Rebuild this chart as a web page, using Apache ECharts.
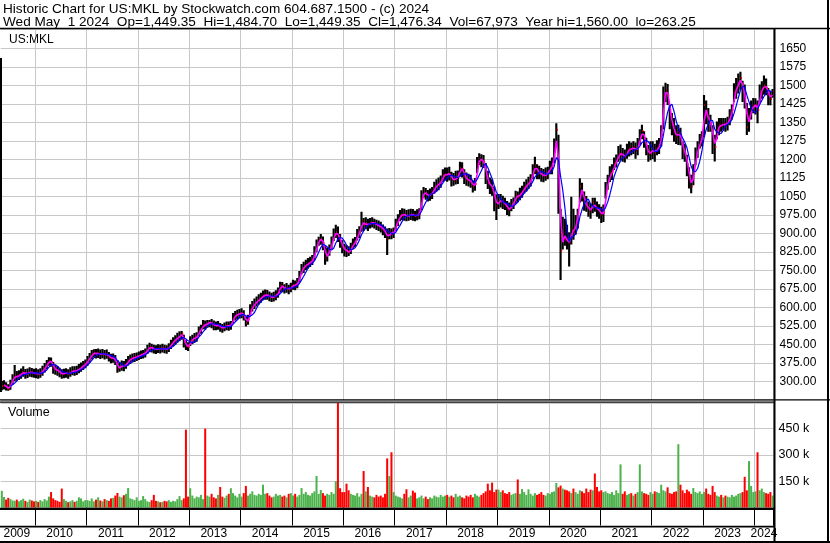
<!DOCTYPE html>
<html><head><meta charset="utf-8">
<script src="https://cdn.jsdelivr.net/npm/echarts@6/dist/echarts.min.js"></script>
<style>html,body{margin:0;padding:0;background:#fff}#c{width:830px;height:543px}</style>
</head><body><div id="c"></div>
<script>
// ---- semi-monthly periods (a = 1st half, b = 2nd half), May 2009 .. May 1 2024
const periods = [];
for (let y = 2009; y <= 2024; y++) for (let m = 1; m <= 12; m++) for (const h of ['a', 'b']) {
  const k = y * 100 + m;
  if (k < 200905 || k > 202405 || (k === 202405 && h === 'b')) continue;
  periods.push(y + '-' + String(m).padStart(2, '0') + h);
}

// ---- closes / highs / lows per half month
const c2009 = [283,287,278,270,290,312,322,320,326,332,340,330,334,340,336,333];
const h2009 = [303,306,298,290,308,330,368,343,346,353,362,351,353,358,355,352];
const l2009 = [265,268,264,263,267,288,302,304,307,312,320,312,315,320,318,316];
const c2010 = [334,330,335,345,358,370,385,380,355,348,345,336,330,334,336,330,338,344,342,346,352,358,366,372];
const h2010 = [354,350,354,364,376,388,399,398,380,370,363,356,350,352,354,350,358,362,362,364,372,378,384,390];
const l2010 = [314,312,316,324,337,350,364,360,332,328,324,318,312,314,316,312,320,326,324,327,334,340,347,354];
const c2011 = [385,398,410,418,412,415,410,414,408,412,400,394,396,386,352,358,366,362,372,385,392,396,398,402];
const h2011 = [404,416,428,431,432,434,430,432,428,430,420,413,414,408,388,378,386,384,392,404,410,414,416,418];
const l2011 = [364,377,390,398,394,396,392,395,390,393,382,375,377,368,336,340,344,342,352,366,372,378,380,384];
const c2012 = [405,410,412,418,432,440,436,432,430,434,432,436,433,430,438,452,462,470,478,486,494,462,445,440];
const h2012 = [422,426,428,434,450,458,454,450,448,452,450,454,450,448,456,470,480,488,498,504,505,490,468,460];
const l2012 = [388,392,394,398,412,420,418,414,412,416,414,418,415,413,420,432,442,450,458,464,470,438,428,424];
const c2013 = [465,472,478,482,505,512,532,528,538,540,535,528,526,530,520,516,522,528,525,530,558,568,572,576];
const h2013 = [484,490,497,500,523,531,550,548,550,550,554,548,544,546,538,534,540,544,544,546,578,586,591,594];
const l2013 = [444,452,458,462,484,494,512,510,518,520,516,508,508,510,502,498,504,508,506,510,537,548,552,556];
const c2014 = [578,568,538,552,590,605,615,625,632,640,648,652,650,645,640,645,650,660,690,685,675,680,672,682];
const h2014 = [597,589,564,571,613,627,637,645,654,660,669,673,671,665,660,664,670,681,705,704,694,700,692,701];
const l2014 = [557,548,523,530,570,584,594,604,612,620,630,632,632,626,623,625,630,640,662,662,657,660,654,662];
const c2015 = [692,690,700,725,755,765,772,778,785,792,820,850,875,878,860,800,815,832,860,895,905,890,870,845];
const h2015 = [713,710,720,748,776,786,794,801,806,813,848,876,887,898,888,848,843,855,888,920,935,928,898,873];
const l2015 = [672,670,678,702,734,740,752,758,764,772,792,824,850,854,832,773,787,810,837,870,882,866,842,820];
const c2016 = [835,828,822,840,858,865,895,905,950,935,940,935,942,945,940,935,930,925,915,905,880,905,898,905];
const h2016 = [858,853,848,863,880,886,918,929,988,963,966,960,963,966,960,956,953,948,936,928,920,922,920,924];
const l2016 = [807,805,809,817,837,844,872,882,907,910,917,910,920,924,920,914,910,904,893,882,813,877,877,882];
const c2017 = [935,955,972,978,975,970,972,978,975,970,976,980,1045,1070,1060,1052,1058,1065,1085,1095,1100,1110,1135,1140];
const h2017 = [960,978,995,1002,1000,995,998,1000,999,992,998,1002,1075,1088,1084,1076,1082,1088,1110,1120,1127,1135,1160,1167];
const l2017 = [910,930,950,955,952,950,952,955,952,950,954,958,995,1045,1037,1030,1033,1040,1062,1070,1075,1085,1110,1115];
const c2018 = [1138,1145,1120,1115,1125,1130,1165,1160,1130,1118,1115,1110,1090,1100,1180,1205,1195,1190,1140,1105,1095,1085,1045,1010];
const h2018 = [1167,1170,1150,1145,1154,1155,1190,1188,1160,1147,1142,1138,1115,1125,1210,1225,1221,1218,1185,1154,1127,1120,1090,1059];
const l2018 = [1110,1115,1090,1093,1098,1100,1132,1127,1100,1093,1090,1085,1066,1073,1145,1177,1168,1165,1100,1080,1060,1053,990,955];
const c2019 = [1030,1036,1025,1018,1002,995,1015,1025,1055,1048,1060,1070,1085,1095,1105,1115,1150,1175,1150,1145,1140,1130,1140,1148];
const h2019 = [1060,1060,1053,1045,1032,1025,1040,1046,1073,1070,1085,1093,1110,1120,1130,1140,1180,1211,1180,1174,1165,1161,1167,1170];
const l2019 = [999,1005,999,995,975,970,990,999,1020,1026,1035,1045,1062,1070,1080,1090,1120,1140,1120,1120,1110,1107,1114,1120];
const c2020 = [1165,1175,1230,1320,1100,830,900,880,870,860,920,905,940,980,1090,1065,1030,1010,1000,990,1025,1005,1000,990];
const h2020 = [1195,1208,1285,1346,1300,1000,968,960,935,905,1049,1000,975,1000,1124,1105,1070,1052,1030,1022,1045,1045,1030,1018];
const l2020 = [1140,1140,1185,1255,980,712,835,850,835,766,855,875,895,920,1025,1030,992,988,968,960,982,988,968,960];
const c2021 = [975,985,1075,1110,1140,1150,1180,1195,1220,1225,1215,1210,1230,1245,1240,1250,1235,1250,1290,1315,1285,1245,1220,1230];
const h2021 = [1008,1017,1108,1138,1172,1180,1208,1220,1254,1260,1246,1240,1263,1273,1268,1273,1268,1287,1322,1340,1314,1288,1258,1273];
const l2021 = [942,947,1042,1077,1109,1117,1157,1167,1190,1197,1190,1187,1203,1212,1217,1222,1203,1217,1257,1282,1247,1217,1190,1197];
const c2022 = [1240,1225,1245,1255,1300,1460,1480,1460,1380,1340,1310,1290,1310,1285,1240,1225,1180,1120,1090,1150,1210,1245,1270,1290];
const h2022 = [1273,1263,1278,1287,1338,1495,1510,1505,1420,1388,1368,1338,1340,1328,1273,1263,1219,1168,1138,1180,1248,1273,1303,1314];
const l2022 = [1202,1190,1217,1222,1252,1322,1432,1420,1322,1298,1271,1262,1258,1257,1202,1190,1132,1082,1063,1095,1176,1207,1244,1252];
const c2023 = [1420,1380,1360,1345,1280,1250,1320,1340,1335,1345,1340,1350,1370,1400,1470,1490,1510,1530,1480,1450,1330,1375,1400,1420];
const h2023 = [1461,1438,1408,1381,1338,1300,1353,1368,1368,1368,1368,1373,1403,1422,1508,1530,1548,1555,1518,1503,1428,1408,1438,1449];
const l2023 = [1290,1342,1312,1312,1222,1191,1282,1298,1312,1317,1312,1317,1338,1362,1432,1446,1467,1482,1432,1406,1299,1312,1362,1387];
const c2024 = [1420,1400,1470,1485,1500,1490,1460,1445,1476.34];
const h2024 = [1448,1438,1503,1516,1540,1528,1489,1478,1484.70];
const l2024 = [1382,1346,1432,1446,1462,1460,1419,1419,1449.35];

// ---- volume (thousands) per half month
const v2009 = [95,60,45,55,48,40,38,45,35,42,50,38,32,45,40,35];
const v2010 = [38,32,42,35,48,40,62,88,52,42,38,32,108,48,38,30,35,42,32,38,58,52,35,42];
const v2011 = [42,38,52,35,45,58,40,35,48,42,38,52,55,68,83,62,58,70,78,111,52,48,42,58];
const v2012 = [38,42,65,48,35,32,42,72,38,35,30,32,38,35,42,32,38,35,48,65,42,52,444,62];
const v2013 = [110,68,52,62,58,72,48,450,68,62,78,58,52,72,117,62,55,68,78,110,82,68,58,78];
const v2014 = [62,82,123,68,78,92,72,68,78,72,130,78,82,68,58,62,78,68,72,62,68,58,78,82];
const v2015 = [68,78,62,72,111,78,88,72,68,82,92,180,78,100,82,68,78,72,88,78,150,620,110,88];
const v2016 = [88,136,98,78,72,68,82,62,78,208,92,117,68,62,58,72,62,68,58,78,280,180,315,88];
const v2017 = [68,62,58,52,78,104,58,68,96,85,52,58,68,52,62,48,58,52,68,62,58,72,62,68];
const v2018 = [72,62,68,58,78,62,68,58,52,68,62,72,58,78,68,62,72,82,92,136,98,142,88,102];
const v2019 = [102,88,98,82,78,88,72,78,82,160,78,105,88,72,104,78,68,82,72,78,88,72,68,82];
const v2020 = [78,88,92,140,115,125,108,102,98,92,82,108,88,78,98,92,82,108,88,102,98,194,117,92];
const v2021 = [98,88,92,82,78,88,72,98,82,246,78,92,72,78,82,68,78,88,246,92,82,78,72,88];
const v2022 = [78,92,88,82,130,98,92,115,82,78,88,92,361,130,98,82,102,92,78,111,88,82,92,78];
const v2023 = [88,108,78,72,123,88,68,62,72,58,68,62,58,72,62,68,78,82,88,175,98,265,123,88];
const v2024 = [92,315,98,108,88,82,78,88,68];

const priceTicks = { min: 225, max: 1728, step: 75 };
const volTicks = { min: 0, max: 596000, step: 150000 };

const closes = [].concat(c2009,c2010,c2011,c2012,c2013,c2014,c2015,c2016,c2017,c2018,c2019,c2020,c2021,c2022,c2023,c2024);
const highs  = [].concat(h2009,h2010,h2011,h2012,h2013,h2014,h2015,h2016,h2017,h2018,h2019,h2020,h2021,h2022,h2023,h2024);
const lows   = [].concat(l2009,l2010,l2011,l2012,l2013,l2014,l2015,l2016,l2017,l2018,l2019,l2020,l2021,l2022,l2023,l2024);
const vols   = [].concat(v2009,v2010,v2011,v2012,v2013,v2014,v2015,v2016,v2017,v2018,v2019,v2020,v2021,v2022,v2023,v2024);

function movingAvg(arr, n) {
  return arr.map((v, i) => {
    if (i < n - 1) return null;
    let s = 0; for (let k = i - n + 1; k <= i; k++) s += arr[k];
    return +(s / n).toFixed(2);
  });
}
const maShort = movingAvg(closes, 2);
const maLong = movingAvg(closes, 5);

const FONT = '"Liberation Sans", Arial, sans-serif';
const RED = '#ff0000', GREEN = '#4cb24c', GRID = '#c8c8c8';
const isYearStart = (i, v) => String(periods[i]).slice(5) === '01a';
const labelSet = new Set(['2009-08b', '2024-03a']);
for (let y = 2010; y <= 2023; y++) labelSet.add(y + '-06b');
const isLabel = (i, v) => labelSet.has(periods[i]);

const ohlcData = periods.map((p, i) => [i, lows[i], highs[i], closes[i]]);
const volData = vols.map((v, i) => ({
  value: v * 1000,
  itemStyle: { color: (i > 0 && closes[i] < closes[i - 1]) ? RED : GREEN }
}));

const L = 0.75, R = 56.4;
const chart = echarts.init(document.getElementById('c'), null, { renderer: 'canvas' });
const rect = (x, y, w, h) => ({ type: 'rect', z: 100, silent: true, shape: { x, y, width: w, height: h }, style: { fill: '#000' } });
const txt = (x, y, t, size) => ({ type: 'text', z: 100, silent: true, x, y,
  style: { text: t, font: size + 'px ' + FONT, fill: '#000', verticalAlign: 'middle', align: 'left' } });

chart.setOption({
  animation: false,
  backgroundColor: '#fff',
  grid: [
    { left: L, right: R, top: 29, height: 371.2 },
    { left: L, right: R, top: 403, height: 104.5 }
  ],
  xAxis: [
    { type: 'category', gridIndex: 0, data: periods, boundaryGap: true,
      axisLine: { show: false }, axisTick: { show: false }, axisLabel: { show: false },
      splitLine: { show: true, interval: isYearStart, lineStyle: { color: GRID, width: 1 } } },
    { type: 'category', gridIndex: 1, data: periods, boundaryGap: true,
      axisLine: { show: false },
      axisTick: { show: true, interval: isYearStart, length: 18, lineStyle: { color: '#000', width: 1 } },
      axisLabel: { show: true, interval: isLabel, formatter: v => v.slice(0, 4), margin: 20,
        fontSize: 12, color: '#000', fontFamily: FONT },
      splitLine: { show: true, interval: isYearStart, lineStyle: { color: GRID, width: 1 } } }
  ],
  yAxis: [
    { type: 'value', gridIndex: 0, position: 'right', min: priceTicks.min, max: priceTicks.max, interval: priceTicks.step,
      axisLine: { show: false }, axisTick: { show: false },
      axisLabel: { margin: 6, fontSize: 12, color: '#000', fontFamily: FONT,
        formatter: v => (v < 300 || v > 1650) ? '' : (v >= 1050 ? String(v) : v.toFixed(2)) },
      splitLine: { show: true, lineStyle: { color: GRID, width: 1 } } },
    { type: 'value', gridIndex: 1, position: 'right', min: volTicks.min, max: volTicks.max, interval: volTicks.step,
      axisLine: { show: false }, axisTick: { show: false },
      axisLabel: { margin: 5, fontSize: 12.5, color: '#000', fontFamily: FONT,
        formatter: v => (v <= 0 || v > 450000) ? '' : (v / 1000) + ' k' },
      splitLine: { show: true, lineStyle: { color: GRID, width: 1 } } }
  ],
  series: [
    { type: 'custom', xAxisIndex: 0, yAxisIndex: 0, data: ohlcData, clip: true, z: 2,
      encode: { x: 0, y: [1, 2, 3] },
      renderItem: (params, api) => {
        const i = api.value(0);
        const pH = api.coord([i, api.value(2)]);
        const pL = api.coord([i, api.value(1)]);
        const pC = api.coord([i, api.value(3)]);
        const w = api.size([1, 0])[0];
        return { type: 'group', children: [
          { type: 'rect', shape: { x: pH[0] - w * 0.5, y: pH[1], width: w, height: Math.max(1, pL[1] - pH[1]) }, style: { fill: '#000' } },
          { type: 'rect', shape: { x: pC[0] + w * 0.2, y: pC[1] - 1, width: 1.2, height: 2 }, style: { fill: RED } }
        ] };
      } },
    { type: 'line', xAxisIndex: 0, yAxisIndex: 0, data: maShort, showSymbol: false, symbol: 'none', z: 3,
      lineStyle: { color: '#ff00ff', width: 1.6 } },
    { type: 'line', xAxisIndex: 0, yAxisIndex: 0, data: maLong, showSymbol: false, symbol: 'none', z: 4,
      lineStyle: { color: '#0000ff', width: 1.2 } },
    { type: 'bar', xAxisIndex: 1, yAxisIndex: 1, data: volData, barCategoryGap: '6%', clip: true }
  ],
  graphic: [
    txt(3, 9, 'Historic Chart for US:MKL by Stockwatch.com 604.687.1500 - (c) 2024', 13.6),
    txt(3, 22, 'Wed May  1 2024  Op=1,449.35  Hi=1,484.70  Lo=1,449.35  Cl=1,476.34  Vol=67,973  Year hi=1,560.00  lo=263.25', 13.6),
    txt(9, 40, 'US:MKL', 12),
    txt(8, 413, 'Volume', 12.5),
    rect(0, 27.8, 830, 1.5),
    rect(773.5, 28, 2, 515),
    rect(827, 0, 2, 543),
    rect(0, 399.3, 830, 1.1),
    rect(0, 401.6, 774, 1.1),
    rect(0, 507.8, 775, 2.3),
    rect(0, 525.7, 775, 1.8),
    rect(0, 541, 830, 2),
    rect(0, 58, 2, 334)
  ]
});
</script></body></html>
